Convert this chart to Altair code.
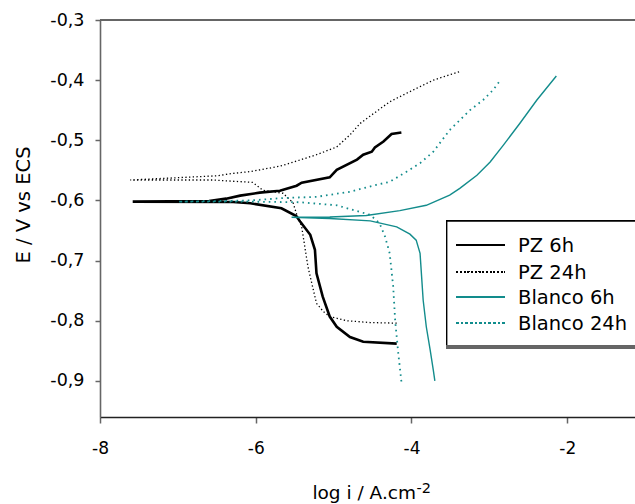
import altair as alt
import pandas as pd

# ---------------- data ----------------
series_names = ["PZ 6h", "PZ 24h", "Blanco 6h", "Blanco 24h"]

pz6_logi = [-4.19, -4.62, -4.79, -4.96, -5.05, -5.14, -5.22, -5.24, -5.30, -5.43,
            -5.48, -5.67, -6.07, -6.29, -7.58, -6.60, -6.38, -6.20, -5.95, -5.69,
            -5.475, -5.41, -5.05, -4.96, -4.70, -4.62, -4.51, -4.47, -4.36, -4.256, -4.13]
pz6_E = [-0.838, -0.835, -0.827, -0.810, -0.793, -0.760, -0.721, -0.682, -0.657, -0.635,
         -0.626, -0.613, -0.6047, -0.6025, -0.602, -0.601, -0.597, -0.592, -0.587, -0.584,
         -0.5755, -0.5705, -0.5615, -0.549, -0.532, -0.524, -0.519, -0.512, -0.502, -0.4895, -0.487]

pz24_logi = [-4.19, -4.53, -4.83, -5.05, -5.13, -5.22, -5.28, -5.33, -5.37, -5.41,
             -5.48, -5.52, -5.65, -5.91, -6.04, -6.55, -7.61, -6.50, -6.29, -6.07,
             -5.69, -5.56, -5.22, -4.96, -4.79, -4.66, -4.45, -4.28, -4.02, -3.72, -3.51, -3.36]
pz24_E = [-0.804, -0.803, -0.800, -0.793, -0.785, -0.771, -0.738, -0.710, -0.677, -0.644,
          -0.621, -0.604, -0.588, -0.583, -0.570, -0.566, -0.566, -0.559, -0.555, -0.552,
          -0.543, -0.538, -0.524, -0.511, -0.491, -0.472, -0.452, -0.436, -0.419, -0.400, -0.391, -0.385]

bl6_logi = [-3.70, -3.72, -3.76, -3.81, -3.85, -3.87, -3.89, -3.94, -4.02, -4.19,
            -4.53, -5.05, -5.54, -5.05, -4.58, -4.15, -3.81, -3.51, -3.38, -3.16,
            -2.99, -2.82, -2.61, -2.39, -2.14]
bl6_E = [-0.900, -0.882, -0.849, -0.810, -0.766, -0.727, -0.688, -0.666, -0.656, -0.644,
         -0.634, -0.630, -0.628, -0.6275, -0.625, -0.617, -0.608, -0.591, -0.580, -0.558,
         -0.536, -0.508, -0.472, -0.433, -0.393]

bl24_logi = [-4.13, -4.17, -4.21, -4.235, -4.28, -4.34, -4.41, -4.53, -4.96, -5.43,
             -6.07, -7.00, -6.07, -5.65, -5.22, -4.79, -4.45, -4.28, -4.06, -3.89,
             -3.72, -3.51, -3.25, -3.08, -2.95, -2.865]
bl24_E = [-0.901, -0.854, -0.799, -0.743, -0.688, -0.660, -0.638, -0.624, -0.608, -0.603,
          -0.602, -0.602, -0.600, -0.596, -0.594, -0.5855, -0.574, -0.569, -0.552, -0.538,
          -0.519, -0.483, -0.450, -0.433, -0.416, -0.401]

x_ticks = [-8, -6, -4, -2]
y_ticks = [-0.3, -0.4, -0.5, -0.6, -0.7, -0.8, -0.9]

# ---------------- build table ----------------
rows = []
for name, xs, ys in [("PZ 6h", pz6_logi, pz6_E), ("PZ 24h", pz24_logi, pz24_E),
                     ("Blanco 6h", bl6_logi, bl6_E), ("Blanco 24h", bl24_logi, bl24_E)]:
    for k, (a, b) in enumerate(zip(xs, ys)):
        rows.append({"serie": name, "logi": a, "E": b, "idx": k})
df = pd.DataFrame(rows)

TEAL = "#138c8c"
FONT = "DejaVu Sans"
styles = {
    "PZ 6h": dict(color="black", strokeWidth=2.6),
    "PZ 24h": dict(color="black", strokeWidth=1.3, strokeDash=[1.3, 2.4]),
    "Blanco 6h": dict(color=TEAL, strokeWidth=1.4),
    "Blanco 24h": dict(color=TEAL, strokeWidth=1.8, strokeDash=[1.6, 4]),
}
legend_styles = {
    "PZ 6h": dict(color="black", strokeWidth=1.4),
    "PZ 24h": dict(color="black", strokeWidth=1.3, strokeDash=[1.3, 2.4]),
    "Blanco 6h": dict(color=TEAL, strokeWidth=1.4),
    "Blanco 24h": dict(color=TEAL, strokeWidth=1.6, strokeDash=[1.6, 3]),
}

W, H = 535, 397

x_enc = alt.X("logi:Q",
              scale=alt.Scale(domain=[-8, -1.13], nice=False, zero=False),
              axis=alt.Axis(values=x_ticks, title=None,
                            labelExpr="(datum.value < 0 ? '-' : '') + format(abs(datum.value), 'd')",
                            domainColor="#222", domainWidth=1.6, tickColor="#666",
                            tickSize=6, tickWidth=1.5, labelPadding=17, labelFontSize=17,
                            labelFlush=False, labelOverlap=False, grid=False))
y_enc = alt.Y("E:Q",
              scale=alt.Scale(domain=[-0.96, -0.3], nice=False, zero=False),
              axis=alt.Axis(values=y_ticks, title=None,
                            labelExpr="(datum.value < 0 ? '-' : '') + replace(format(abs(datum.value), '.1f'), '.', ',')",
                            domainColor="#666", domainWidth=1.6, tickColor="#666",
                            tickSize=5, tickWidth=1.5, labelPadding=11, labelFontSize=17.5,
                            labelFlush=False, labelOverlap=False, grid=False))

layers = []
for name in series_names:
    layers.append(
        alt.Chart(df).transform_filter(alt.datum.serie == name)
        .mark_line(strokeCap="butt", **styles[name])
        .encode(x=x_enc, y=y_enc, order="idx:Q")
    )

# top frame line
layers.append(alt.Chart(df).mark_rule(color="#666", strokeWidth=1.6).encode(
    x=alt.value(0), x2=alt.value(W), y=alt.value(0)))

# legend box with grey bottom edge
layers.append(alt.Chart(df).mark_rect(fill="white", stroke="black", strokeWidth=1.4).encode(
    x=alt.value(346.7), x2=alt.value(W + 10), y=alt.value(201), y2=alt.value(326.5)))
layers.append(alt.Chart(df).mark_rule(color="#666", strokeWidth=2.4).encode(
    x=alt.value(346), x2=alt.value(W + 5), y=alt.value(327)))

legend_y = [225, 251.7, 277, 303.3]
for name, ly in zip(series_names, legend_y):
    layers.append(alt.Chart(df).mark_rule(strokeCap="butt", **legend_styles[name]).encode(
        x=alt.value(356.7), x2=alt.value(405), y=alt.value(ly)))
    layers.append(alt.Chart(pd.DataFrame({"t": [name]})).mark_text(
        align="left", baseline="middle", font=FONT, fontSize=19.5, color="black").encode(
        x=alt.value(418), y=alt.value(ly + 1), text="t:N"))

# axis titles
layers.append(alt.Chart(pd.DataFrame({"t": ["E / V vs ECS"]})).mark_text(
    align="center", baseline="middle", angle=270, font=FONT, fontSize=19.5, color="black").encode(
    x=alt.value(-76), y=alt.value(185), text="t:N"))
layers.append(alt.Chart(pd.DataFrame({"t": ["log i / A.cm"]})).mark_text(
    align="right", baseline="alphabetic", font=FONT, fontSize=18.5, color="black").encode(
    x=alt.value(316), y=alt.value(479), text="t:N"))
layers.append(alt.Chart(pd.DataFrame({"t": ["-2"]})).mark_text(
    align="left", baseline="alphabetic", font=FONT, fontSize=14.5, color="black").encode(
    x=alt.value(316.5), y=alt.value(473), text="t:N"))

chart = alt.layer(*layers).properties(
    width=W, height=H,
    autosize=alt.AutoSizeParams(type="none"),
    padding={"left": 100, "top": 20, "right": 0, "bottom": 87},
    background="white",
).configure_view(stroke=None).configure_axis(
    labelFont=FONT, labelColor="black"
)

chart.save("out.html", embed_options={"renderer": "svg", "actions": False})
